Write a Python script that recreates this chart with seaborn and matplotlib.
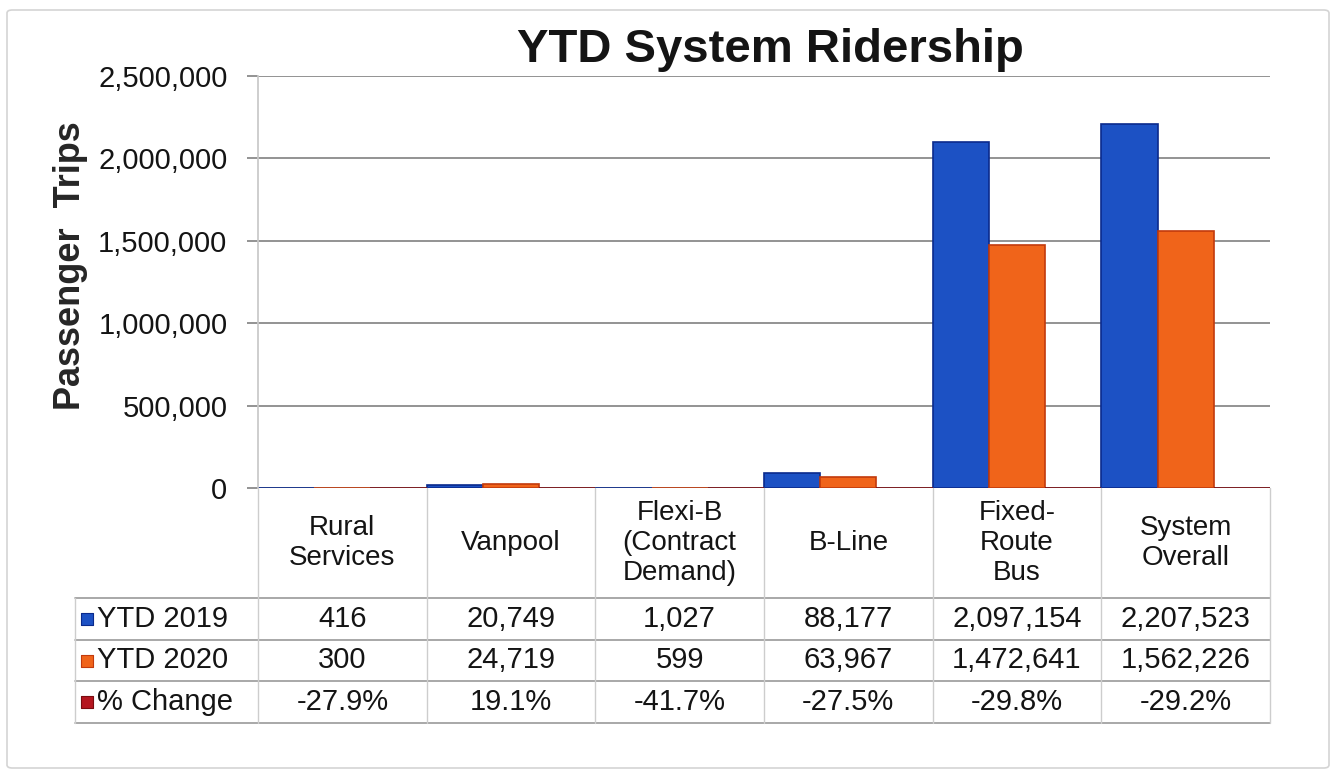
import matplotlib
matplotlib.use("Agg")
from matplotlib import pyplot as plt
from matplotlib.patches import FancyBboxPatch
from matplotlib.ticker import FuncFormatter
import pandas as pd
import seaborn as sns

# data
categories = ["Rural\nServices", "Vanpool", "Flexi-B\n(Contract\nDemand)",
              "B-Line", "Fixed-\nRoute\nBus", "System\nOverall"]
series = ["YTD 2019", "YTD 2020", "% Change"]
ytd_2019 = [416, 20749, 1027, 88177, 2097154, 2207523]
ytd_2020 = [300, 24719, 599, 63967, 1472641, 1562226]
pct_change = [-0.279, 0.191, -0.417, -0.275, -0.298, -0.292]
colors = {"YTD 2019": "#1c51c4", "YTD 2020": "#f0641a", "% Change": "#b5161f"}
edges = {"YTD 2019": "#0a2a8c", "YTD 2020": "#c23a0c", "% Change": "#7a0c10"}

df = pd.DataFrame({
    "category": categories * 3,
    "series": [s for s in series for _ in categories],
    "value": ytd_2019 + ytd_2020 + pct_change,
})

W, H = 1339, 777
sns.set_theme(style="white")
plt.rcParams["font.family"] = ["Liberation Sans", "DejaVu Sans"]
plt.rcParams["text.color"] = "#141414"

fig = plt.figure(figsize=(W / 100, H / 100), dpi=100)
fig.patch.set_facecolor("white")
fig.add_artist(FancyBboxPatch((7 / W, 9 / H), 1322 / W, 758 / H,
                              boxstyle="round,pad=0,rounding_size=0.004",
                              transform=fig.transFigure, fill=False,
                              ec="#d4d4d4", lw=1.2))

# main plot area
left, right, top, base = 258, 1270, 76, 488
ax = fig.add_axes([left / W, 1 - base / H, (right - left) / W, (base - top) / H])
sns.barplot(data=df, x="category", y="value", hue="series", hue_order=series,
            order=categories, palette=colors, width=1.0, saturation=1,
            linewidth=1.2, legend=False, ax=ax)
for cont, s in zip(ax.containers, series):
    for p in cont:
        p.set_edgecolor(edges[s])

ax.set_xlim(-0.5, 5.5)
ax.set_ylim(0, 2500000)
ax.set_yticks(range(0, 2500001, 500000))
ax.yaxis.set_major_formatter(FuncFormatter(lambda v, _: f"{int(v):,}"))
ax.tick_params(axis="y", labelsize=21, length=8, width=1.2, color="#808080",
               labelcolor="#141414", pad=14, left=True)
ax.set_xticks([])
ax.set_xlabel("")
ax.grid(axis="y", color="#808080", lw=1.2)
ax.set_axisbelow(True)
for side in ["top", "right", "bottom"]:
    ax.spines[side].set_visible(False)
ax.spines["left"].set_color("#c8c8c8")
ax.set_ylabel("Passenger  Trips", fontsize=26, fontweight="bold")
ax.yaxis.set_label_coords(-0.168, 0.54)
fig.text(770 / W, 1 - 62 / H, "YTD System Ridership", fontsize=34,
         fontweight="bold", ha="center", va="baseline")

# data table below the chart
t_left, t_bottom = 75, 723
unit = (right - left) / 6
tab = fig.add_axes([t_left / W, 1 - t_bottom / H, (right - t_left) / W, (t_bottom - base) / H])
tab.set_xlim(-0.5 - (left - t_left) / unit, 5.5)
tab.set_ylim(0, t_bottom - base)
tab.axis("off")
row_edges = [0, 110, 152, 193, 235]   # px from top of table
th = t_bottom - base
row_y = [th - r for r in row_edges]
x0 = -0.5 - (left - t_left) / unit

for yv in row_y[1:]:
    tab.plot([x0, 5.5], [yv, yv], color="#9a9a9a", lw=1.2, clip_on=False)
for i in range(7):
    tab.plot([i - 0.5, i - 0.5], [0, th], color="#cdcdcd", lw=1.0, clip_on=False)
tab.plot([x0, x0], [0, row_y[1]], color="#cdcdcd", lw=1.0, clip_on=False)

for i, c in enumerate(categories):
    tab.text(i, (row_y[0] + row_y[1]) / 2, c, ha="center", va="center",
             fontsize=20, linespacing=1.22)

rows = [
    ("YTD 2019", [f"{v:,}" for v in ytd_2019]),
    ("YTD 2020", [f"{v:,}" for v in ytd_2020]),
    ("% Change", [f"{v * 100:.1f}%" for v in pct_change]),
]
for r, (name, vals) in enumerate(rows):
    yc = (row_y[r + 1] + row_y[r + 2]) / 2
    tab.scatter([x0 + 0.07], [yc], marker="s", s=70, color=colors[name],
                edgecolor=edges[name], lw=0.8, clip_on=False)
    tab.text(x0 + 0.13, yc, name, ha="left", va="center", fontsize=21)
    for i, v in enumerate(vals):
        tab.text(i, yc, v, ha="center", va="center", fontsize=21)

fig.savefig("out.png", dpi=100)
